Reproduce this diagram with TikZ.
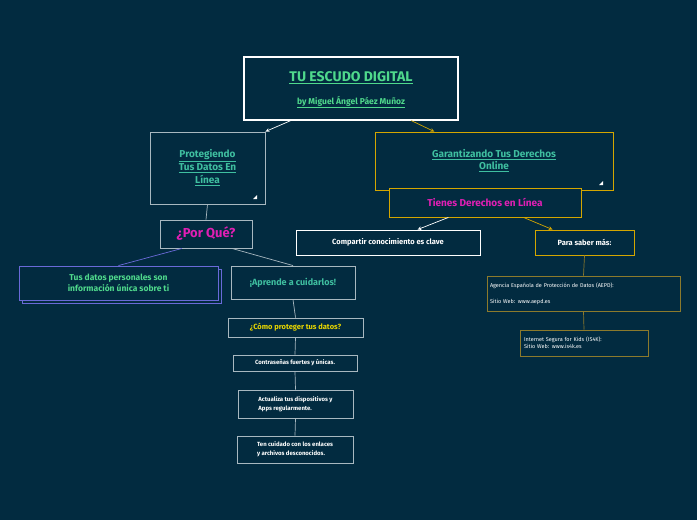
\documentclass[tikz,border=0pt]{standalone}
\usepackage{fontspec}
\setmainfont{Fira Sans}
\usetikzlibrary{calc}
\definecolor{bgblue}{HTML}{022B40}
\definecolor{mintgreen}{HTML}{4FD98C}
\definecolor{tealtxt}{HTML}{3FBFA0}
\definecolor{goldline}{HTML}{D4A600}
\definecolor{dimgold}{HTML}{8C7A2C}
\definecolor{pinktxt}{HTML}{E01FB4}
\definecolor{yellowtxt}{HTML}{E8D600}
\definecolor{greyline}{HTML}{A8B8C0}
\definecolor{purpleline}{HTML}{6A6AD8}

\tikzset{
  box/.style={draw=greyline, line width=0.9pt, inner sep=0pt, align=center, text=white},
  gbox/.style={box, draw=goldline},
  link/.style={line width=0.7pt, draw=greyline},
  glink/.style={line width=0.7pt, draw=goldline},
}
\newcommand{\ul}[1]{\underline{#1}}

\begin{document}
\begin{tikzpicture}[x=1pt,y=-1pt]
        \fill[bgblue] (0,0) rectangle (697,520);
        \useasboundingbox (0,0) rectangle (697,520);
        % main topic
        \node[box, draw=white, line width=1.2pt, minimum width=214pt, minimum height=63pt] (title) at (351,88.5) {};
        \node[text=mintgreen, font=\bfseries\fontsize{14}{16}\selectfont] at (351,78) {\ul{TU ESCUDO DIGITAL}};
        \node[text=mintgreen, font=\bfseries\fontsize{8.5}{10}\selectfont] at (351,102) {\ul{by Miguel Ángel Páez Muñoz}};
        % left branch
        \node[box, minimum width=115pt, minimum height=72pt, text=tealtxt, font=\bfseries\fontsize{10}{13}\selectfont] (proteg) at (207.5,168) {\ul{Protegiendo}\\\ul{Tus Datos En}\\\ul{Línea}};
        \node[box, minimum width=92pt, minimum height=28pt, text=pinktxt, font=\bfseries\fontsize{13}{15}\selectfont] (porque) at (206,234) {¿Por Qué?};
        \draw[purpleline, line width=0.9pt] (22,269) rectangle (221,303);
        \node[box, draw=purpleline, fill=bgblue, minimum width=199pt, minimum height=34pt, text=mintgreen, font=\bfseries\fontsize{8.5}{10.5}\selectfont] (datos) at (118.5,283) {Tus datos personales son\\información única sobre ti};
        \node[box, minimum width=124pt, minimum height=33pt, text=tealtxt, font=\bfseries\fontsize{9}{11}\selectfont] (aprende) at (293,282.5) {¡Aprende a cuidarlos!};
        \node[box, minimum width=135pt, minimum height=19pt, text=yellowtxt, font=\bfseries\fontsize{7.5}{9}\selectfont] (como) at (295.5,327.5) {¿Cómo proteger tus datos?};
        \node[box, minimum width=124pt, minimum height=16pt, font=\bfseries\fontsize{6}{8}\selectfont] (claves) at (295,363) {Contraseñas fuertes y únicas.};
        \node[box, minimum width=115pt, minimum height=28pt, font=\bfseries\fontsize{6}{9}\selectfont, align=left] (actual) at (295.5,404) {Actualiza tus dispositivos y\\Apps regularmente.};
        \node[box, minimum width=116pt, minimum height=27pt, font=\bfseries\fontsize{6}{9}\selectfont, align=left] (enlaces) at (295,449.5) {Ten cuidado con los enlaces\\y archivos desconocidos.};
        % right branch
        \node[gbox, minimum width=238pt, minimum height=58pt, text=tealtxt, font=\bfseries\fontsize{10}{12}\selectfont] (garant) at (494,161) {\ul{Garantizando Tus Derechos}\\\ul{Online}};
        \node[gbox, fill=bgblue, minimum width=192pt, minimum height=29pt, text=pinktxt, font=\bfseries\fontsize{10}{12}\selectfont] (derechos) at (485,202.5) {Tienes Derechos en Línea};
        \node[box, draw=white, minimum width=184pt, minimum height=25pt, font=\bfseries\fontsize{7.5}{9}\selectfont] (compartir) at (388,242.5) {Compartir conocimiento es clave};
        \node[gbox, minimum width=99pt, minimum height=25pt, font=\bfseries\fontsize{7.5}{9}\selectfont] (saber) at (584.5,242.5) {Para saber más:};
        \node[box, draw=dimgold, minimum width=193pt, minimum height=35pt, font=\fontsize{5.5}{9}\selectfont, align=left, text width=187pt] (aepd) at (583.5,293.5) {Agencia Española de Protección de Datos (AEPD):\\[7pt]Sitio Web: www.aepd.es};
        \node[box, draw=dimgold, minimum width=128pt, minimum height=26pt, font=\fontsize{5.5}{7}\selectfont, align=left, text width=120pt] (is4k) at (584,343) {Internet Segura for Kids (IS4K):\\Sitio Web: www.is4k.es};
        % corner marks
        \fill[white] (257,199) -- (253,199) -- (257,195) -- cycle;
        \fill[white] (603,185) -- (599,185) -- (603,181) -- cycle;
        % connectors
        \draw[link, draw=white, -stealth] ($(title.south west)!0.22!(title.south east)$) -- (proteg.north east);
        \draw[glink, -stealth] ($(title.south west)!0.78!(title.south east)$) -- ($(garant.north west)!0.25!(garant.north east)$);
        \draw[link] (proteg.south) -- (porque.north);
        \draw[purpleline, line width=0.7pt] ($(porque.south west)!0.24!(porque.south east)$) -- (datos.north);
        \draw[link] ($(porque.south west)!0.78!(porque.south east)$) -- (aprende.north);
        \draw[link] (aprende.south) -- (como.north);
        \draw[link] (como.south) -- (claves.north);
        \draw[link] (claves.south) -- (actual.north);
        \draw[link] (actual.south) -- (enlaces.north);
        \draw[link, draw=white, -stealth] ($(derechos.south west)!0.31!(derechos.south east)$) -- ($(compartir.north west)!0.66!(compartir.north east)$);
        \draw[glink, -stealth] ($(derechos.south west)!0.7!(derechos.south east)$) -- ($(saber.north west)!0.18!(saber.north east)$);
        \draw[glink, draw=dimgold] (saber.south) -- (aepd.north);
        \draw[glink, draw=dimgold] (aepd.south) -- (is4k.north);
\end{tikzpicture}
\end{document}
